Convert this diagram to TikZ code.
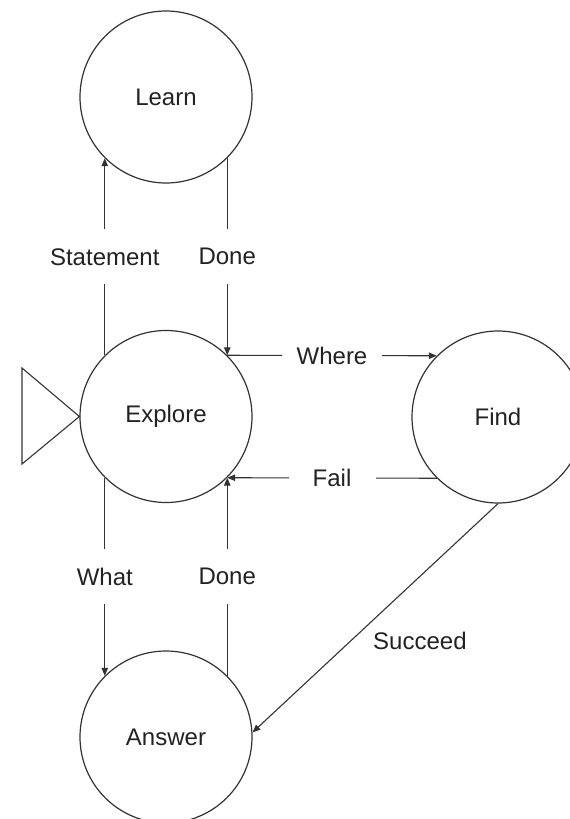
\documentclass[tikz,border=0pt]{standalone}
\usepackage{fontspec}
\setmainfont{Liberation Sans}
\usetikzlibrary{arrows.meta}
\definecolor{ink}{HTML}{333333}
\definecolor{txt}{HTML}{222222}
\begin{document}
\begin{tikzpicture}[x=1pt,y=-1pt,
  font=\fontsize{24}{28}\selectfont, text=txt,
  state/.style={circle, draw=ink, line width=1.2pt, minimum size=172pt, inner sep=0pt},
  conn/.style={draw=ink, line width=1.1pt},
  arr/.style={conn, -{Triangle[length=8pt,width=6.5pt]}},
  vlbl/.style={fill=white, inner sep=0pt, minimum height=55pt},
  hlbl/.style={fill=white, inner sep=0pt, minimum height=30pt}]
\useasboundingbox (0,0) rectangle (570,819);

% states
\node[state] (learn)   at (166,97)    {Learn};
\node[state] (explore) at (166,416.5) {Explore};
\node[state] (find)    at (498,417)   {Find};
\node[state] (answer)  at (166,737)   {Answer};

% start marker
\coordinate (st1) at (22,368);
\coordinate (st2) at (22,464);
\draw[conn, line join=miter] (explore.west) -- (st1) -- (st2) -- cycle;

% transitions
\draw[arr] (explore.135) -- node[vlbl] {Statement} (learn.225);
\draw[arr] (learn.315) -- node[vlbl] {Done} (explore.45);
\draw[arr] (explore.45) -- node[hlbl, minimum width=100pt] {Where} (find.135);
\draw[arr] (find.225) -- node[hlbl, minimum width=87pt] {Fail} (explore.315);
\draw[arr] (explore.225) -- node[vlbl] {What} (answer.135);
\draw[arr] (answer.45) -- node[vlbl] {Done} (explore.315);
\draw[arr] (find.270) -- node[pos=0.6, anchor=west, xshift=22pt, inner sep=0pt] {Succeed} (answer.3);
\end{tikzpicture}
\end{document}
